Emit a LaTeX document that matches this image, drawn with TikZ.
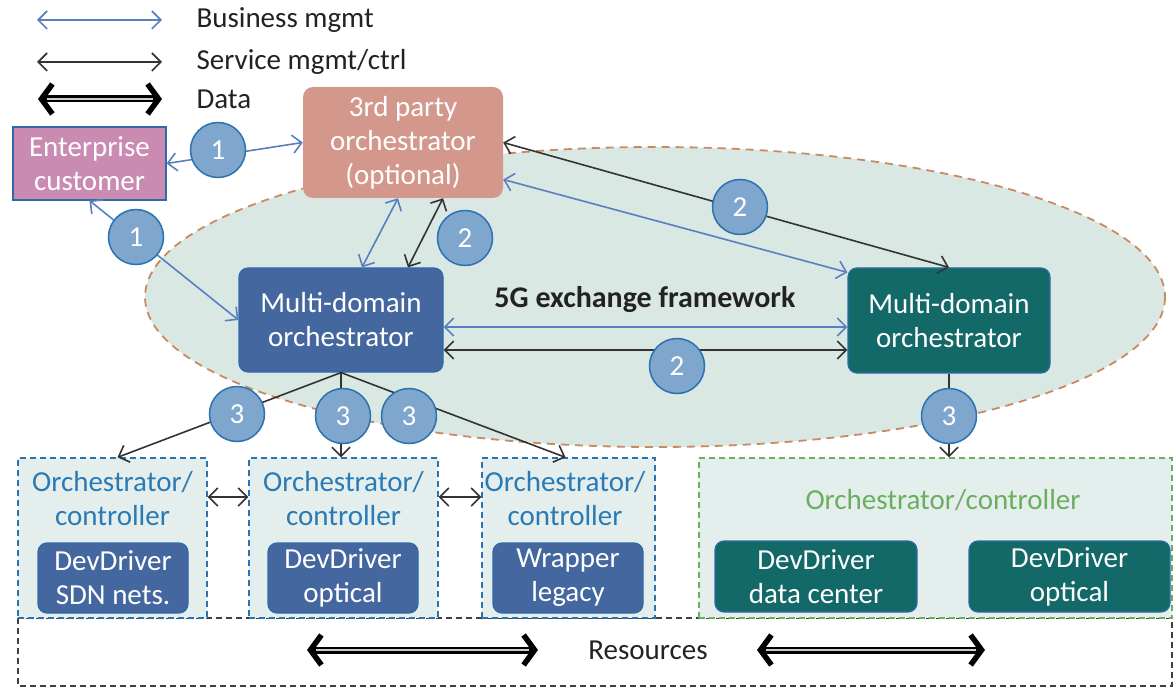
\documentclass[tikz,border=0pt]{standalone}
\usepackage{fontspec}
\setmainfont{Carlito}
\usetikzlibrary{arrows.meta}

\definecolor{entfill}{HTML}{C98BB1}
\definecolor{tpfill}{HTML}{D4978B}
\definecolor{ellfill}{HTML}{DAE8E4}
\definecolor{ellline}{HTML}{C88A5E}
\definecolor{bluebox}{HTML}{44679F}
\definecolor{blueline}{HTML}{2E6AA8}
\definecolor{tealbox}{HTML}{136868}
\definecolor{circfill}{HTML}{7FA6CC}
\definecolor{circline}{HTML}{2A72B0}
\definecolor{bizcol}{HTML}{5A7FC0}
\definecolor{ctrltext}{HTML}{2A7AB5}
\definecolor{greenline}{HTML}{6AAF5E}
\definecolor{lowfill}{HTML}{E4EEEC}
\definecolor{darktext}{HTML}{222222}

\tikzset{
  >={Straight Barb[length=9pt,width=18pt]},
  bigtext/.style={font=\fontsize{29}{34}\selectfont},
  solidbox/.style={rounded corners=9pt, draw=blueline, line width=1.2pt,
    text=white, align=center, bigtext, inner sep=0pt},
  entbox/.style={draw=blueline, line width=1.2pt, fill=entfill, text=white,
    align=center, bigtext, inner sep=0pt},
  tpbox/.style={rounded corners=10pt, fill=tpfill, text=white, align=center,
    bigtext, inner sep=0pt},
  ctrlbox/.style={draw=circline, dash pattern=on 6pt off 4pt,
    line width=1.3pt, fill=lowfill, inner sep=0pt},
  ctrltxt/.style={text=ctrltext, align=center, bigtext},
  numcirc/.style={circle, fill=circfill, draw=circline, line width=1.5pt,
    minimum size=55pt, inner sep=0pt, text=white, bigtext},
  biz/.style={draw=bizcol, line width=1.6pt, <->},
  svc/.style={draw=black!80, line width=1.6pt, <->},
  svcone/.style={draw=black!80, line width=1.6pt, ->},
  databody/.style={draw=black, line width=7pt,
    {Straight Barb[length=11pt,width=30pt,line width=5.5pt]}-{Straight Barb[length=11pt,width=30pt,line width=5.5pt]}},
  datacore/.style={draw=gray!40, line width=2.4pt, shorten <=9pt, shorten >=9pt},
}

\begin{document}
\begin{tikzpicture}[x=1pt,y=-1pt]
\useasboundingbox (0,0) rectangle (1173,687);

% exchange framework region
\filldraw[fill=ellfill, draw=ellline, line width=1.8pt, dash pattern=on 8pt off 6pt]
  (655,297) ellipse [x radius=510, y radius=150];
\node[font=\fontsize{30}{34}\selectfont\bfseries, text=darktext] (fw) at (645,300) {5G exchange framework};

% legend
\coordinate (lb1) at (37,20);  \coordinate (lb2) at (162,20);
\coordinate (ls1) at (37,62);  \coordinate (ls2) at (162,62);
\coordinate (ld1) at (38,99);  \coordinate (ld2) at (162,99);
\draw[biz] (lb1) -- (lb2);
\draw[svc] (ls1) -- (ls2);
\draw[databody] (ld1) -- (ld2);
\draw[datacore] (ld1) -- (ld2);
\node[anchor=west, bigtext, text=darktext] (tb) at (193,20) {Business mgmt};
\node[anchor=west, bigtext, text=darktext] (ts) at (193,62) {Service mgmt/ctrl};
\node[anchor=west, bigtext, text=darktext] (td) at (193,99) {Data};

% upper nodes
\node[entbox, minimum width=153pt, minimum height=73pt] (ent) at (89.5,163.5) {Enterprise\\customer};
\node[tpbox, minimum width=200pt, minimum height=111pt] (tp) at (403,142.5) {3rd party\\orchestrator\\(optional)};
\node[solidbox, fill=bluebox, minimum width=204pt, minimum height=104pt] (mdoL) at (341,320) {Multi-domain\\orchestrator};
\node[solidbox, fill=tealbox, minimum width=202pt, minimum height=105pt] (mdoR) at (949,320.5) {Multi-domain\\orchestrator};

% resources area
\draw[black!75, line width=1.3pt, dash pattern=on 6pt off 4pt] (18,618) rectangle (1172,686);

% lower domains
\node[ctrlbox, minimum width=189pt, minimum height=160pt] (c1) at (112.5,538) {};
\node[ctrlbox, minimum width=189pt, minimum height=160pt] (c2) at (343.5,538) {};
\node[ctrlbox, minimum width=173pt, minimum height=160pt] (c3) at (568.5,538) {};
\node[ctrlbox, draw=greenline, minimum width=473pt, minimum height=160pt] (g) at (935.5,538) {};

\node[ctrltxt] (c1t) at (112.5,499) {Orchestrator/\\controller};
\node[ctrltxt] (c2t) at (343.5,499) {Orchestrator/\\controller};
\node[ctrltxt] (c3t) at (565,499) {Orchestrator/\\controller};
\node[bigtext, text=greenline] (gt) at (943,500) {Orchestrator/controller};

\node[solidbox, fill=bluebox, minimum width=150pt, minimum height=70pt] (d1) at (113,578) {DevDriver\\SDN nets.};
\node[solidbox, fill=bluebox, minimum width=150pt, minimum height=70pt] (d2) at (343,578) {DevDriver\\optical};
\node[solidbox, fill=bluebox, minimum width=150pt, minimum height=70pt] (d3) at (568,578) {Wrapper\\legacy};
\node[solidbox, fill=tealbox, minimum width=202pt, minimum height=71pt] (d4) at (816,576.5) {DevDriver\\data center};
\node[solidbox, fill=tealbox, minimum width=201pt, minimum height=71pt] (d5) at (1069.5,576.5) {DevDriver\\optical};

\node[bigtext, text=darktext] (res) at (648,650) {Resources};
\coordinate (ra1) at (307,650); \coordinate (ra2) at (538,650);
\coordinate (rb1) at (757,650); \coordinate (rb2) at (985,650);
\draw[databody] (ra1) -- (ra2); \draw[datacore] (ra1) -- (ra2);
\draw[databody] (rb1) -- (rb2); \draw[datacore] (rb1) -- (rb2);

% business and service connectors
\draw[biz] (ent.east) -- (tp.west);
\draw[biz] (ent.south) -- (mdoL.west);
\draw[biz] ([xshift=21pt]mdoL.north) -- ([xshift=-5pt]tp.south);
\draw[svc] ([xshift=67pt]mdoL.north) -- ([xshift=40pt]tp.south);
\draw[svc] (tp.east) -- (mdoR.north);
\draw[biz] ([yshift=-37pt]tp.east) -- ([yshift=-5pt]mdoR.north west);
\draw[biz] ([yshift=-7pt]mdoL.east) -- ([yshift=-7pt]mdoL.east -| mdoR.west);
\draw[svc] ([yshift=-30pt]mdoL.east) -- ([yshift=-30pt]mdoL.east -| mdoR.west);
\draw[svcone] (mdoL.south) -- ([xshift=5pt]c1.north);
\draw[svcone] (mdoL.south) -- (mdoL.south |- c2.north);
\draw[svcone] (mdoL.south) -- ([xshift=-3pt]c3.north);
\draw[svcone] (mdoR.south) -- (mdoR.south |- g.north);
\draw[svc] (c1.east |- 0,497) -- (c2.west |- 0,497);
\draw[svc] (c2.east |- 0,497) -- (c3.west |- 0,497);

% step numbers
\node[numcirc] (n1a) at (218,150) {1};
\node[numcirc] (n1b) at (136,237) {1};
\node[numcirc] (n2a) at (465,238) {2};
\node[numcirc] (n2b) at (740,207) {2};
\node[numcirc] (n2c) at (677,366) {2};
\node[numcirc] (n3a) at (237,414) {3};
\node[numcirc] (n3b) at (343,416) {3};
\node[numcirc] (n3c) at (409,416) {3};
\node[numcirc] (n3d) at (949,416) {3};
\end{tikzpicture}
\end{document}
